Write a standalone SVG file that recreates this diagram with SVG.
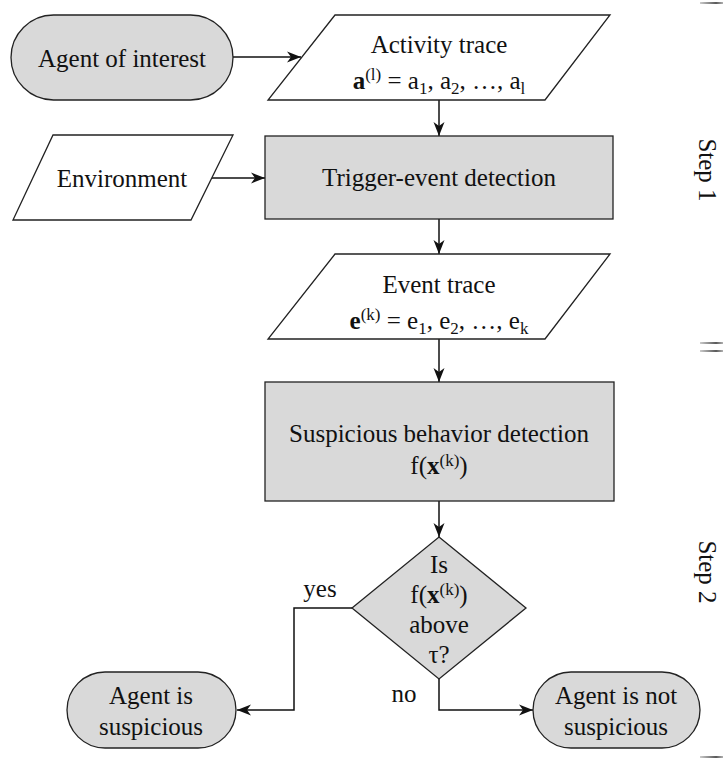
<svg xmlns="http://www.w3.org/2000/svg" width="723" height="760" viewBox="0 0 723 760">
<style>
.t{font-family:"Liberation Serif","Times New Roman",serif;font-size:25px;fill:#111;text-anchor:middle}
.s{font-size:17px}
.b{font-weight:bold}
.gray{fill:#d9d9d9;stroke:#222;stroke-width:1.3}
.white{fill:#fff;stroke:#222;stroke-width:1.3}
.c{fill:none;stroke:#111;stroke-width:1.5}
</style>
<defs>
<marker id="ah" markerUnits="userSpaceOnUse" markerWidth="15" markerHeight="12" refX="14" refY="6" orient="auto">
<path d="M0,0.5 L14,6 L0,11.5 L4,6 Z" fill="#111"/>
</marker>
<linearGradient id="br" x1="0" y1="0" x2="1" y2="0">
<stop offset="0" stop-color="#bbb"/>
<stop offset="0.7" stop-color="#222"/>
<stop offset="1" stop-color="#999"/>
</linearGradient>
</defs>

<g id="connectors">
<path class="c" d="M233,57 H301" marker-end="url(#ah)"/>
<path class="c" d="M439,100 V136" marker-end="url(#ah)"/>
<path class="c" d="M212,178 H265" marker-end="url(#ah)"/>
<path class="c" d="M439,219 V254" marker-end="url(#ah)"/>
<path class="c" d="M439,339 V382" marker-end="url(#ah)"/>
<path class="c" d="M439,501 V537" marker-end="url(#ah)"/>
<path class="c" d="M352,608 H294 V710 H237" marker-end="url(#ah)"/>
<path class="c" d="M439,679 V710 H533" marker-end="url(#ah)"/>
<text class="t" x="320" y="597">yes</text>
<text class="t" x="404" y="702">no</text>
</g>

<g id="agent">
<rect class="gray" x="11" y="15" width="222" height="85" rx="42.5"/>
<text class="t" x="122" y="67">Agent of interest</text>
</g>

<g id="activity">
<path class="white" d="M335,15 H610 L545,100 H268 Z"/>
<text class="t" x="439" y="53">Activity trace</text>
<text class="t" x="439" y="89"><tspan class="b">a</tspan><tspan class="s" dy="-9">(l)</tspan><tspan dy="9"> = a</tspan><tspan class="s" dy="5">1</tspan><tspan dy="-5">, a</tspan><tspan class="s" dy="5">2</tspan><tspan dy="-5">, …, a</tspan><tspan class="s" dy="5">l</tspan></text>
</g>

<g id="environment">
<path class="white" d="M53,135 H233 L191,220 H13 Z"/>
<text class="t" x="122" y="187">Environment</text>
</g>

<g id="trigger">
<rect class="gray" x="265" y="136" width="348" height="83"/>
<text class="t" x="439" y="186">Trigger-event detection</text>
</g>

<g id="event">
<path class="white" d="M335,254 H610 L545,339 H268 Z"/>
<text class="t" x="439" y="293">Event trace</text>
<text class="t" x="439" y="329"><tspan class="b">e</tspan><tspan class="s" dy="-9">(k)</tspan><tspan dy="9"> = e</tspan><tspan class="s" dy="5">1</tspan><tspan dy="-5">, e</tspan><tspan class="s" dy="5">2</tspan><tspan dy="-5">, …, e</tspan><tspan class="s" dy="5">k</tspan></text>
</g>

<g id="suspicious-detection">
<rect class="gray" x="265" y="382" width="349" height="119"/>
<text class="t" x="439" y="442">Suspicious behavior detection</text>
<text class="t" x="439" y="474">f(<tspan class="b">x</tspan><tspan class="s" dy="-8">(k)</tspan><tspan dy="8">)</tspan></text>
</g>

<g id="decision">
<path class="gray" d="M439,537 L526,608 L439,679 L352,608 Z"/>
<text class="t" x="439" y="573">Is</text>
<text class="t" x="439" y="603">f(<tspan class="b">x</tspan><tspan class="s" dy="-8">(k)</tspan><tspan dy="8">)</tspan></text>
<text class="t" x="439" y="633">above</text>
<text class="t" x="439" y="663">τ?</text>
</g>

<g id="agent-suspicious">
<rect class="gray" x="67" y="672" width="169" height="76" rx="38"/>
<text class="t" x="151" y="704">Agent is</text>
<text class="t" x="151" y="735">suspicious</text>
</g>

<g id="agent-not-suspicious">
<rect class="gray" x="533" y="672" width="167" height="76" rx="38"/>
<text class="t" x="616" y="704">Agent is not</text>
<text class="t" x="616" y="735">suspicious</text>
</g>

<g id="steps">
<path d="M700,3 H723 M700,343 H723 M700,351 H723 M700,757 H723" stroke="url(#br)" stroke-width="1.5" fill="none"/>
<text class="t" transform="translate(699,170) rotate(90)">Step 1</text>
<text class="t" transform="translate(699,572) rotate(90)">Step 2</text>
</g>
</svg>
